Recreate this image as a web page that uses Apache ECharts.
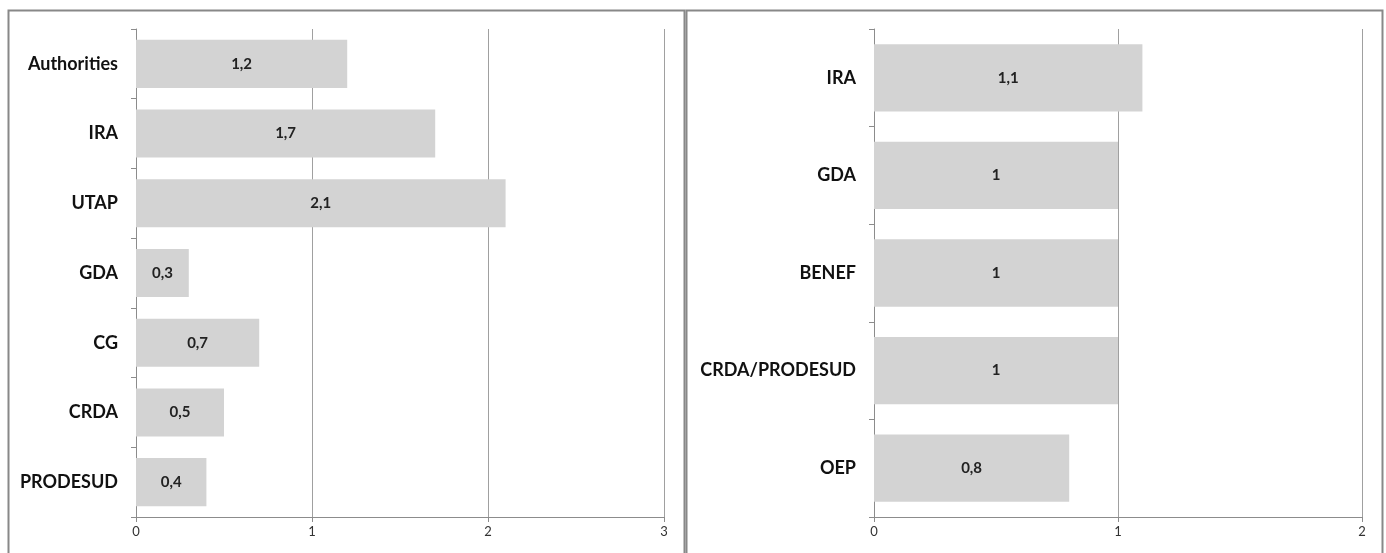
<!DOCTYPE html>
<html>
<head>
<meta charset="utf-8">
<script src="https://cdn.jsdelivr.net/npm/echarts@6/dist/echarts.min.js"></script>
<style>
  html, body { margin: 0; padding: 0; background: #fff; }
  #chart_main { width: 1386px; height: 553px; }
</style>
</head>
<body>
<div id="chart_main"></div>
<script>
var leftKeys = ['Authorities', 'IRA', 'UTAP', 'GDA', 'CG', 'CRDA', 'PRODESUD'];
var leftValues = [1.2, 1.7, 2.1, 0.3, 0.7, 0.5, 0.4];
var rightKeys = ['IRA', 'GDA', 'BENEF', 'CRDA/PRODESUD', 'OEP'];
var rightValues = [1.1, 1, 1, 1, 0.8];

var myChart = echarts.init(document.getElementById('chart_main'));
var font = 'Lato, "Open Sans", sans-serif';

function commaLabel(p) {
    return String(p.value).replace('.', ',');
}

function xAxis(idx, max) {
    return {
        gridIndex: idx,
        type: 'value',
        min: 0,
        max: max,
        interval: 1,
        axisLine: { show: true, lineStyle: { color: '#8c8c8c' } },
        axisTick: { show: true, length: 5, lineStyle: { color: '#8c8c8c' } },
        axisLabel: { color: '#333', fontFamily: font, fontSize: 13, margin: 8 },
        splitLine: { show: true, lineStyle: { color: '#a0a0a0' } }
    };
}

function yAxis(idx, keys) {
    return {
        gridIndex: idx,
        type: 'category',
        inverse: true,
        data: keys,
        axisLine: { show: true, lineStyle: { color: '#8c8c8c' } },
        axisTick: { show: true, length: 5, lineStyle: { color: '#8c8c8c' } },
        axisLabel: { color: '#111', fontFamily: font, fontWeight: 'bold', fontSize: 18, margin: 18 }
    };
}

function barSeries(idx, values) {
    return {
        type: 'bar',
        xAxisIndex: idx,
        yAxisIndex: idx,
        data: values,
        barCategoryGap: '31%',
        itemStyle: { color: '#d3d3d3' },
        label: {
            show: true,
            position: 'inside',
            color: '#222',
            fontFamily: font,
            fontWeight: 'bold',
            fontSize: 15,
            formatter: commaLabel
        },
        silent: true
    };
}

var option = {
    animation: false,
    grid: [
        { left: 136, right: 722, top: 29, bottom: 36 },
        { left: 874, right: 24, top: 29, bottom: 36 }
    ],
    xAxis: [xAxis(0, 3), xAxis(1, 2)],
    yAxis: [yAxis(0, leftKeys), yAxis(1, rightKeys)],
    series: [barSeries(0, leftValues), barSeries(1, rightValues)],
    graphic: [
        {
            type: 'rect',
            shape: { x: 8.5, y: 10.5, width: 676, height: 560 },
            style: { fill: null, stroke: '#888', lineWidth: 2 },
            silent: true
        },
        {
            type: 'rect',
            shape: { x: 686.5, y: 10.5, width: 696, height: 560 },
            style: { fill: null, stroke: '#888', lineWidth: 2 },
            silent: true
        }
    ]
};

myChart.setOption(option);
</script>
</body>
</html>
